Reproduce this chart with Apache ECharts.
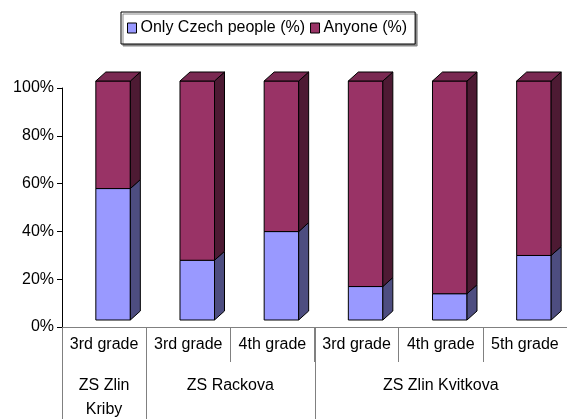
<!DOCTYPE html>
<html>
<head>
<meta charset="utf-8">
<script src="https://cdn.jsdelivr.net/npm/echarts@6/dist/echarts.min.js"></script>
<style>
html,body{margin:0;padding:0;background:#fff;}
#chart{width:567px;height:419px;}
</style>
</head>
<body>
<div id="chart"></div>
<script>
// ---- data ----
const grades = ['3rd grade', '3rd grade', '4th grade', '3rd grade', '4th grade', '5th grade'];
const schools = ['ZS Zlin\nKriby', 'ZS Rackova', 'ZS Zlin Kvitkova'];
const schoolSpans = [1, 2, 3];
const onlyCzech = [55, 25, 37, 14, 11, 27];
const anyone = [45, 75, 63, 86, 89, 73];
const seriesNames = ['Only Czech people (%)', 'Anyone (%)'];
const yTicks = [0, 20, 40, 60, 80, 100];

// ---- style ----
const FONT = 'Liberation Sans, Arial, sans-serif';
const FS = 16;
const faces = [
  { front: '#9999FF', side: '#4D4D80', top: '#7A7ACC' },
  { front: '#993366', side: '#4D1A33', top: '#7A2952' }
];
const OX = 9, OY = -7, DX = 10, DY = 9;

function makeData(vals, bases, isTop) {
  return vals.map((v, i) => [i, bases[i], bases[i] + v, isTop ? 1 : 0]);
}
const zeros = onlyCzech.map(() => 0);

function renderItem(si) {
  return function (params, api) {
    const i = api.value(0), lo = api.value(1), hi = api.value(2), isTop = api.value(3);
    const pLo = api.coord([i, lo]);
    const pHi = api.coord([i, hi]);
    const bw = api.size([1, 0])[0];
    const w = bw * 0.41;
    const x0 = pLo[0] - w / 2 + OX, x1 = x0 + w;
    const yb = pLo[1] + OY, yt = pHi[1] + OY;
    const stroke = { stroke: '#000', lineWidth: 1 };
    const ch = [
      { type: 'rect', shape: { x: x0, y: yt, width: w, height: yb - yt },
        style: Object.assign({ fill: faces[si].front }, stroke) },
      { type: 'polygon', shape: { points: [[x1, yb], [x1 + DX, yb - DY], [x1 + DX, yt - DY], [x1, yt]] },
        style: Object.assign({ fill: faces[si].side }, stroke) }
    ];
    if (isTop) {
      ch.push({ type: 'polygon', shape: { points: [[x0, yt], [x0 + DX, yt - DY], [x1 + DX, yt - DY], [x1, yt]] },
        style: Object.assign({ fill: faces[si].top }, stroke) });
    }
    return { type: 'group', children: ch };
  };
}

const chart = echarts.init(document.getElementById('chart'), null, { renderer: 'canvas' });
const gridLeft = 62, gridTop = 88, gridBottom = 92;
const option = {
  animation: false,
  backgroundColor: '#fff',
  legend: {
    left: 121, top: 12,
    padding: [8, 8, 8, 6],
    itemGap: 5, itemWidth: 9, itemHeight: 10,
    borderColor: '#000', borderWidth: 1,
    backgroundColor: '#fff',
    shadowColor: '#888', shadowOffsetX: 2, shadowOffsetY: 2, shadowBlur: 0,
    textStyle: { fontFamily: FONT, fontSize: FS, color: '#000', padding: [0, 0, 0, -1] },
    data: seriesNames.map((n, k) => ({ name: n, icon: 'rect',
      itemStyle: { color: faces[k].front, borderColor: '#000', borderWidth: 1 } }))
  },
  grid: { left: gridLeft, right: 0, top: gridTop, bottom: gridBottom },
  xAxis: {
    type: 'category', data: grades,
    axisLine: { lineStyle: { color: '#808080', width: 1 } },
    axisTick: { show: true, length: 35, interval: 0, lineStyle: { color: '#808080' } },
    axisLabel: { interval: 0, margin: 10, fontFamily: FONT, fontSize: FS, color: '#000' }
  },
  yAxis: {
    type: 'value', min: 0, max: 100, interval: 20,
    axisLine: { show: true, lineStyle: { color: '#000', width: 1 } },
    axisTick: { show: true, length: 5, lineStyle: { color: '#000' } },
    splitLine: { show: false },
    axisLabel: { formatter: '{value}%', margin: 8, fontFamily: FONT, fontSize: FS, color: '#000' }
  },
  series: [
    { name: seriesNames[0], type: 'custom', renderItem: renderItem(0), itemStyle: { color: faces[0].front },
      encode: { x: 0, y: [1, 2] }, data: makeData(onlyCzech, zeros, false) },
    { name: seriesNames[1], type: 'custom', renderItem: renderItem(1), itemStyle: { color: faces[1].front },
      encode: { x: 0, y: [1, 2] }, data: makeData(anyone, onlyCzech, true) }
  ]
};
chart.setOption(option);

// group labels and dividers for the second category level
function drawGroups() {
  const g = [];
  const y0 = chart.convertToPixel({ yAxisIndex: 0 }, 0);
  const H = 419;
  let start = 0;
  const left = chart.convertToPixel({ xAxisIndex: 0 }, 0);
  const band = chart.convertToPixel({ xAxisIndex: 0 }, 1) - left;
  g.push({ type: 'line', shape: { x1: gridLeft + 0.5, y1: y0, x2: gridLeft + 0.5, y2: H },
    style: { stroke: '#808080', lineWidth: 1 } });
  schools.forEach((s, k) => {
    const xs = left - band / 2 + start * band;
    const xe = xs + schoolSpans[k] * band;
    g.push({ type: 'text', x: (xs + xe) / 2, y: y0 + 47,
      style: { text: s, fontFamily: FONT, fontSize: FS, fill: '#000', align: 'center', verticalAlign: 'top', lineHeight: 24 } });
    if (k > 0) {
      g.push({ type: 'line', shape: { x1: Math.round(xs) + 0.5, y1: y0, x2: Math.round(xs) + 0.5, y2: H },
        style: { stroke: '#808080', lineWidth: 1 } });
    }
    start += schoolSpans[k];
  });
  chart.setOption({ graphic: g });
}
drawGroups();
</script>
</body>
</html>
